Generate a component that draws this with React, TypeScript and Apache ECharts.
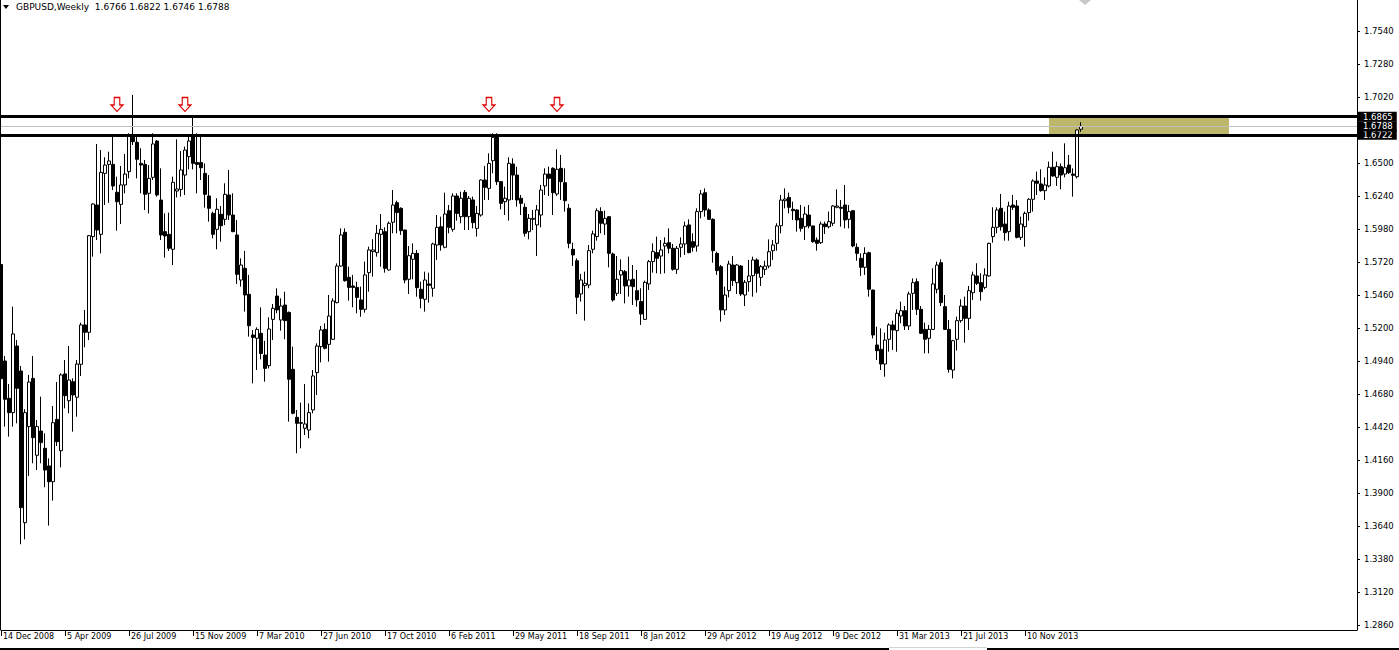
import React, { useEffect, useRef } from "react";
import * as echarts from "echarts";

// ---------- DATA ----------
const symbolName = "GBPUSD";
const timeframe = "Weekly";
const firstWeekUTC = Date.UTC(2008, 11, 14); // 14 Dec 2008
const totalSlots = 340; // bars that fit the visible window (incl. chart shift)
const monthNames = ["Jan", "Feb", "Mar", "Apr", "May", "Jun", "Jul", "Aug", "Sep", "Oct", "Nov", "Dec"];
const dateLabelEvery = 16;

// weekly candles: [open, close, low, high]
const candlesDec08Oct09 = [
  [1.5700, 1.4800, 1.4790, 1.5720], [1.4940, 1.4638, 1.4423, 1.4979], [1.4646, 1.4533, 1.4344, 1.4759],
  [1.4533, 1.5153, 1.4423, 1.5368], [1.5058, 1.4725, 1.4449, 1.5105], [1.4861, 1.3784, 1.3496, 1.4901],
  [1.3666, 1.4533, 1.3535, 1.4560], [1.4423, 1.4774, 1.4034, 1.4830], [1.4803, 1.4336, 1.4134, 1.4979],
  [1.4197, 1.4423, 1.4081, 1.4475], [1.4388, 1.4297, 1.4134, 1.4659], [1.4252, 1.4081, 1.3945, 1.4370],
  [1.4113, 1.3989, 1.3643, 1.4173], [1.3989, 1.4454, 1.3840, 1.4585], [1.4480, 1.4304, 1.4270, 1.4774],
  [1.4233, 1.4830, 1.4102, 1.4843], [1.4838, 1.4667, 1.4567, 1.4948], [1.4627, 1.4790, 1.4528, 1.5058],
  [1.4777, 1.4672, 1.4383, 1.4803], [1.4654, 1.4916, 1.4501, 1.4948], [1.4914, 1.5224, 1.4822, 1.5242],
  [1.5224, 1.5166, 1.5048, 1.5342], [1.5166, 1.5927, 1.5105, 1.5933], [1.5920, 1.6177, 1.5762, 1.6182],
  [1.6169, 1.5972, 1.5893, 1.6650], [1.5938, 1.6426, 1.5788, 1.6602], [1.6418, 1.6484, 1.6169, 1.6545],
  [1.6489, 1.6516, 1.6187, 1.6589], [1.6489, 1.6319, 1.6287, 1.6728], [1.6269, 1.6195, 1.5967, 1.6392],
  [1.6174, 1.6327, 1.6019, 1.6476], [1.6327, 1.6413, 1.6261, 1.6571], [1.6432, 1.6721, 1.6379, 1.6734],
  [1.6702, 1.6668, 1.6642, 1.7036], [1.6663, 1.6529, 1.6379, 1.6707], [1.6497, 1.6484, 1.6261, 1.6616],
  [1.6489, 1.6253, 1.6130, 1.6524], [1.6261, 1.6379, 1.6103, 1.6484], [1.6387, 1.6650, 1.6366, 1.6734],
  [1.6673, 1.6248, 1.6235, 1.6681], [1.6208, 1.5933, 1.5893, 1.6458], [1.5959, 1.5925, 1.5754, 1.6103],
  [1.5938, 1.5828, 1.5807, 1.6109], [1.5820, 1.6348, 1.5696, 1.6392], [1.6279, 1.6295, 1.6229, 1.6686],
];

const candlesOct09Aug10 = [
  [1.6292, 1.6445, 1.6235, 1.6594], [1.6405, 1.6602, 1.6248, 1.6629], [1.6550, 1.6673, 1.6450, 1.6707],
  [1.6721, 1.6497, 1.6450, 1.6870], [1.6503, 1.6489, 1.6261, 1.6734], [1.6503, 1.6463, 1.6366, 1.6707],
  [1.6418, 1.6253, 1.6148, 1.6497], [1.6240, 1.6143, 1.6038, 1.6405], [1.6103, 1.5938, 1.5906, 1.6117],
  [1.5977, 1.6135, 1.5820, 1.6222], [1.6096, 1.6006, 1.5880, 1.6161], [1.6056, 1.6253, 1.6011, 1.6340],
  [1.6248, 1.6090, 1.6051, 1.6445], [1.6090, 1.5959, 1.5955, 1.6261], [1.5933, 1.5623, 1.5547, 1.6051],
  [1.5578, 1.5696, 1.5526, 1.5749], [1.5670, 1.5460, 1.5329, 1.5807], [1.5465, 1.5218, 1.5132, 1.5618],
  [1.5145, 1.5126, 1.4764, 1.5184], [1.5119, 1.5189, 1.4869, 1.5205], [1.5158, 1.4999, 1.4953, 1.5363],
  [1.4987, 1.4882, 1.4777, 1.5098], [1.4903, 1.5192, 1.4882, 1.5284], [1.5268, 1.5355, 1.5105, 1.5389],
  [1.5452, 1.5342, 1.5316, 1.5513], [1.5263, 1.5373, 1.5179, 1.5434], [1.5381, 1.5258, 1.5111, 1.5486],
  [1.5323, 1.4796, 1.4462, 1.5330], [1.4874, 1.4528, 1.4520, 1.5053], [1.4496, 1.4449, 1.4213, 1.4554],
  [1.4454, 1.4449, 1.4252, 1.4612], [1.4410, 1.4444, 1.4357, 1.4759], [1.4396, 1.4533, 1.4331, 1.4606],
  [1.4554, 1.4822, 1.4528, 1.4869], [1.4848, 1.5058, 1.4672, 1.5079], [1.5053, 1.5184, 1.4929, 1.5216],
  [1.5189, 1.5040, 1.5032, 1.5237], [1.5071, 1.5294, 1.4935, 1.5460], [1.5111, 1.5413, 1.5105, 1.5434],
  [1.5400, 1.5688, 1.5394, 1.5709], [1.5688, 1.5933, 1.5683, 1.5985], [1.5954, 1.5573, 1.5565, 1.5985],
  [1.5599, 1.5520, 1.5415, 1.5683], [1.5531, 1.5520, 1.5363, 1.5618], [1.5520, 1.5441, 1.5316, 1.5565],
];

const candlesSep10Jul11 = [
  [1.5421, 1.5347, 1.5289, 1.5526], [1.5347, 1.5618, 1.5321, 1.5723], [1.5636, 1.5815, 1.5486, 1.5841],
  [1.5802, 1.5815, 1.5605, 1.5900], [1.5794, 1.5946, 1.5762, 1.6012], [1.5938, 1.5977, 1.5683, 1.6098],
  [1.5959, 1.5670, 1.5636, 1.5993], [1.5657, 1.6025, 1.5652, 1.6038], [1.6033, 1.6169, 1.5946, 1.6287],
  [1.6187, 1.6109, 1.5946, 1.6203], [1.6143, 1.5967, 1.5933, 1.6151], [1.5972, 1.5578, 1.5552, 1.5975],
  [1.5584, 1.5770, 1.5468, 1.5846], [1.5741, 1.5788, 1.5584, 1.5867], [1.5788, 1.5518, 1.5447, 1.5815],
  [1.5505, 1.5434, 1.5355, 1.5565], [1.5426, 1.5578, 1.5329, 1.5644], [1.5547, 1.5536, 1.5400, 1.5636],
  [1.5513, 1.5862, 1.5447, 1.5872], [1.5854, 1.5993, 1.5736, 1.6090], [1.5998, 1.5854, 1.5809, 1.6077],
  [1.5836, 1.6098, 1.5828, 1.6266], [1.6124, 1.5993, 1.5946, 1.6169], [1.5977, 1.6240, 1.5959, 1.6261],
  [1.6240, 1.6103, 1.6046, 1.6261], [1.6077, 1.6222, 1.6025, 1.6274], [1.6269, 1.6077, 1.5972, 1.6287],
  [1.6077, 1.6222, 1.5972, 1.6240], [1.6209, 1.6030, 1.5985, 1.6235], [1.5985, 1.6103, 1.5920, 1.6161],
  [1.6090, 1.6366, 1.6077, 1.6371], [1.6366, 1.6308, 1.6209, 1.6476], [1.6300, 1.6497, 1.6209, 1.6576],
  [1.6518, 1.6702, 1.6419, 1.6734], [1.6708, 1.6353, 1.6327, 1.6734], [1.6353, 1.6182, 1.6135, 1.6356],
  [1.6195, 1.6222, 1.6090, 1.6314], [1.6209, 1.6497, 1.6046, 1.6545], [1.6492, 1.6405, 1.6209, 1.6537],
  [1.6405, 1.6209, 1.6156, 1.6471], [1.6222, 1.6182, 1.6090, 1.6248], [1.6151, 1.5946, 1.5920, 1.6182],
  [1.5959, 1.6064, 1.5899, 1.6098], [1.6056, 1.6064, 1.5972, 1.6130], [1.6012, 1.6130, 1.5767, 1.6169],
];

const candlesMay11Apr12 = [
  [1.6090, 1.6287, 1.5993, 1.6327], [1.6319, 1.6413, 1.6248, 1.6458], [1.6413, 1.6379, 1.6240, 1.6471],
  [1.6458, 1.6266, 1.6090, 1.6466], [1.6256, 1.6450, 1.6240, 1.6608], [1.6458, 1.6353, 1.6209, 1.6563],
  [1.6345, 1.6203, 1.6117, 1.6458], [1.6143, 1.5867, 1.5828, 1.6177], [1.5820, 1.5775, 1.5689, 1.5872],
  [1.5730, 1.5442, 1.5310, 1.5749], [1.5468, 1.5578, 1.5408, 1.5626], [1.5534, 1.5552, 1.5258, 1.5644],
  [1.5539, 1.5809, 1.5513, 1.5854], [1.5820, 1.5941, 1.5788, 1.5967], [1.5920, 1.6124, 1.5888, 1.6143],
  [1.6117, 1.6025, 1.5946, 1.6151], [1.6019, 1.6064, 1.5933, 1.6124], [1.6077, 1.5788, 1.5678, 1.6082],
  [1.5783, 1.5421, 1.5408, 1.5794], [1.5473, 1.5584, 1.5452, 1.5767], [1.5618, 1.5652, 1.5468, 1.5741],
  [1.5644, 1.5531, 1.5394, 1.5657], [1.5531, 1.5578, 1.5447, 1.5762], [1.5584, 1.5526, 1.5381, 1.5696],
  [1.5494, 1.5421, 1.5368, 1.5657], [1.5408, 1.5310, 1.5224, 1.5513], [1.5268, 1.5560, 1.5263, 1.5573],
  [1.5547, 1.5723, 1.5500, 1.5736], [1.5723, 1.5802, 1.5636, 1.5867], [1.5794, 1.5749, 1.5631, 1.5920],
  [1.5767, 1.5815, 1.5626, 1.5893], [1.5846, 1.5867, 1.5631, 1.5914], [1.5872, 1.5828, 1.5788, 1.5985],
  [1.5828, 1.5662, 1.5652, 1.5862], [1.5662, 1.5828, 1.5626, 1.5846], [1.5836, 1.5862, 1.5757, 1.5914],
  [1.5862, 1.6004, 1.5775, 1.6038], [1.6012, 1.5794, 1.5788, 1.6056], [1.5880, 1.5836, 1.5802, 1.5946],
  [1.5846, 1.6117, 1.5802, 1.6143], [1.6117, 1.6256, 1.6064, 1.6287], [1.6266, 1.6130, 1.6077, 1.6300],
  [1.6130, 1.6056, 1.6051, 1.6143], [1.6056, 1.5809, 1.5715, 1.6064], [1.5788, 1.5652, 1.5618, 1.5802],
];

const candlesMay12Mar13 = [
  [1.5683, 1.5342, 1.5250, 1.5696], [1.5342, 1.5460, 1.5302, 1.5526], [1.5494, 1.5704, 1.5441, 1.5730],
  [1.5696, 1.5573, 1.5531, 1.5767], [1.5557, 1.5696, 1.5468, 1.5704], [1.5688, 1.5468, 1.5452, 1.5696],
  [1.5460, 1.5560, 1.5373, 1.5578], [1.5565, 1.5610, 1.5486, 1.5736], [1.5612, 1.5736, 1.5447, 1.5762],
  [1.5736, 1.5631, 1.5478, 1.5749], [1.5599, 1.5683, 1.5531, 1.5696], [1.5662, 1.5688, 1.5618, 1.5730],
  [1.5688, 1.5801, 1.5670, 1.5898], [1.5809, 1.5854, 1.5736, 1.5893], [1.5867, 1.6004, 1.5809, 1.6025],
  [1.6006, 1.6208, 1.5946, 1.6248], [1.6203, 1.6216, 1.6143, 1.6300], [1.6229, 1.6151, 1.6103, 1.6266],
  [1.6135, 1.6124, 1.6051, 1.6195], [1.6130, 1.6051, 1.5959, 1.6135], [1.6064, 1.5985, 1.5959, 1.6169],
  [1.5998, 1.6098, 1.5893, 1.6156], [1.6090, 1.6004, 1.5985, 1.6169], [1.6004, 1.5880, 1.5872, 1.6006],
  [1.5893, 1.5867, 1.5809, 1.5914], [1.5872, 1.6019, 1.5862, 1.6038], [1.6019, 1.5998, 1.5941, 1.6038],
  [1.5998, 1.6038, 1.5985, 1.6117], [1.6025, 1.6161, 1.6004, 1.6169], [1.6151, 1.6161, 1.6143, 1.6292],
  [1.6151, 1.6143, 1.5998, 1.6208], [1.6169, 1.6051, 1.5985, 1.6327], [1.6056, 1.6117, 1.5985, 1.6169],
  [1.6124, 1.5846, 1.5836, 1.6130], [1.5836, 1.5788, 1.5730, 1.5867], [1.5749, 1.5678, 1.5610, 1.5788],
  [1.5678, 1.5788, 1.5618, 1.5836], [1.5793, 1.5505, 1.5447, 1.5801], [1.5499, 1.5145, 1.5118, 1.5502],
  [1.5066, 1.5021, 1.4948, 1.5210], [1.5032, 1.4916, 1.4869, 1.5197], [1.4916, 1.5105, 1.4816, 1.5163],
  [1.5111, 1.5224, 1.5013, 1.5237], [1.5224, 1.5184, 1.5027, 1.5258], [1.5179, 1.5316, 1.5013, 1.5347],
];

const candlesApr13Feb14 = [
  [1.5294, 1.5336, 1.5237, 1.5407], [1.5336, 1.5216, 1.5184, 1.5373], [1.5216, 1.5468, 1.5184, 1.5486],
  [1.5473, 1.5557, 1.5342, 1.5591], [1.5565, 1.5347, 1.5302, 1.5591], [1.5347, 1.5158, 1.5153, 1.5373],
  [1.5189, 1.5111, 1.5000, 1.5242], [1.5119, 1.5189, 1.5000, 1.5224], [1.5189, 1.5547, 1.5184, 1.5670],
  [1.5505, 1.5696, 1.5473, 1.5723], [1.5715, 1.5400, 1.5373, 1.5741], [1.5368, 1.5189, 1.5184, 1.5460],
  [1.5189, 1.4874, 1.4848, 1.5263], [1.4869, 1.5100, 1.4803, 1.5106], [1.5111, 1.5258, 1.5022, 1.5289],
  [1.5258, 1.5373, 1.5242, 1.5426], [1.5373, 1.5276, 1.5084, 1.5447], [1.5276, 1.5494, 1.5184, 1.5531],
  [1.5478, 1.5618, 1.5421, 1.5644], [1.5610, 1.5552, 1.5539, 1.5710], [1.5557, 1.5486, 1.5415, 1.5631],
  [1.5520, 1.5618, 1.5505, 1.5670], [1.5610, 1.5867, 1.5605, 1.5872], [1.5920, 1.5993, 1.5872, 1.6151],
  [1.5993, 1.6130, 1.5946, 1.6151], [1.6143, 1.5998, 1.5967, 1.6256], [1.6019, 1.5951, 1.5888, 1.6117],
  [1.5959, 1.6161, 1.5888, 1.6195], [1.6169, 1.6151, 1.6130, 1.6248], [1.6161, 1.5914, 1.5906, 1.6208],
  [1.5914, 1.6019, 1.5893, 1.6077], [1.5998, 1.6103, 1.5841, 1.6117], [1.6109, 1.6214, 1.6046, 1.6222],
  [1.6214, 1.6358, 1.6117, 1.6371], [1.6358, 1.6340, 1.6248, 1.6432], [1.6335, 1.6282, 1.6274, 1.6450],
  [1.6282, 1.6327, 1.6208, 1.6387], [1.6319, 1.6466, 1.6308, 1.6511], [1.6466, 1.6398, 1.6392, 1.6589],
  [1.6387, 1.6471, 1.6319, 1.6511], [1.6471, 1.6405, 1.6293, 1.6497], [1.6413, 1.6463, 1.6387, 1.6655],
  [1.6484, 1.6424, 1.6413, 1.6563], [1.6413, 1.6403, 1.6235, 1.6458], [1.6392, 1.6760, 1.6379, 1.6765],
  [1.6766, 1.6788, 1.6746, 1.6822],
];

const resistanceTop = 1.6865;
const resistanceBottom = 1.6722;
const lastPrice = 1.6788;
const priceTicks = [
  1.2860, 1.3120, 1.3380, 1.3640, 1.3900, 1.4160, 1.4420, 1.4680, 1.4940,
  1.5200, 1.5460, 1.5720, 1.5980, 1.6240, 1.6500, 1.7020, 1.7280, 1.7540,
];
const priceMin = 1.28205;
const priceMax = 1.77842;
const arrowBars = [29, 46, 122, 139];
const arrowPrice = 1.6961;
const zoneBars = [262, 307];

// ---------- CHART ----------
const candles = [
  ...candlesDec08Oct09,
  ...candlesOct09Aug10,
  ...candlesSep10Jul11,
  ...candlesMay11Apr12,
  ...candlesMay12Mar13,
  ...candlesApr13Feb14,
];

const weekLabels: string[] = [];
for (let i = 0; i < totalSlots; i++) {
  const d = new Date(firstWeekUTC + i * 7 * 86400000);
  weekLabels.push(`${d.getUTCDate()} ${monthNames[d.getUTCMonth()]} ${d.getUTCFullYear()}`);
}

const FONT = "DejaVu Sans";

export default function App() {
  const ref = useRef<HTMLDivElement>(null);

  useEffect(() => {
    if (!ref.current) return;
    const chart = echarts.init(ref.current, undefined, { renderer: "svg" });
    const lastIdx = candles.length - 1;
    const last = candles[lastIdx];
    const header = `${symbolName},${timeframe}  ${last[0].toFixed(4)} ${last[3].toFixed(4)} ${last[2].toFixed(4)} ${last[1].toFixed(4)}`;
    const showDate = (idx: number) => idx % dateLabelEvery === 0 && idx <= lastIdx;

    const lineLabel = {
      show: true,
      position: "end",
      distance: 1,
      formatter: (p: any) => Number(p.value).toFixed(4),
      color: "#ffffff",
      backgroundColor: "#000000",
      padding: [1, 4, 0, 5],
      fontSize: 8.5,
      lineHeight: 9,
      fontFamily: FONT,
    };

    chart.setOption({
      animation: false,
      backgroundColor: "#ffffff",
      grid: { left: 1, right: 42, top: 0, bottom: 20 },
      xAxis: {
        type: "category",
        data: weekLabels,
        boundaryGap: false,
        axisLine: { show: true, onZero: false, lineStyle: { color: "#000", width: 1 } },
        axisTick: { show: true, length: 6, interval: showDate, lineStyle: { color: "#000" } },
        axisLabel: {
          interval: showDate,
          align: "left",
          margin: 2,
          padding: [0, 0, 0, 2],
          color: "#000",
          fontSize: 8,
          fontFamily: FONT,
        },
        splitLine: { show: false },
      },
      yAxis: {
        type: "value",
        position: "right",
        min: priceMin,
        max: priceMax,
        scale: true,
        splitLine: { show: false },
        axisLine: { show: true, lineStyle: { color: "#000", width: 1 } },
        axisTick: { show: true, length: 3, customValues: priceTicks, lineStyle: { color: "#000" } },
        axisLabel: {
          customValues: priceTicks,
          formatter: (v: number) => v.toFixed(4),
          margin: 7,
          color: "#000",
          fontSize: 8.5,
          fontFamily: FONT,
        },
      },
      series: [
        {
          type: "line",
          data: [],
          z: 1,
          silent: true,
          markArea: {
            silent: true,
            itemStyle: { color: "#bdb76b" },
            data: [[{ coord: [zoneBars[0], resistanceTop] }, { coord: [zoneBars[1], resistanceBottom] }]],
          },
        },
        {
          type: "candlestick",
          data: candles,
          z: 3,
          barWidth: 3,
          silent: true,
          itemStyle: {
            color: "#ffffff",
            color0: "#000000",
            borderColor: "#000000",
            borderColor0: "#000000",
            borderWidth: 1,
          },
          markPoint: {
            silent: true,
            symbol: "path://M3.5,0 L9.5,0 L9.5,7.5 L13,7.5 L6.5,14 L0,7.5 L3.5,7.5 Z",
            symbolSize: [12, 14],
            itemStyle: { color: "#ffffff", borderColor: "#e00000", borderWidth: 1.2 },
            label: { show: false },
            data: arrowBars.map((b) => ({ coord: [b, arrowPrice] })),
          },
          markLine: {
            silent: true,
            precision: 4,
            symbol: ["none", "none"],
            data: [
              { yAxis: resistanceBottom, lineStyle: { color: "#000", width: 3, type: "solid" }, label: lineLabel },
              { yAxis: resistanceTop, lineStyle: { color: "#000", width: 3, type: "solid" }, label: lineLabel },
              { yAxis: lastPrice, lineStyle: { color: "#c0c0c0", width: 1, type: "solid" }, label: lineLabel },
            ],
          },
        },
      ],
      graphic: [
        { type: "polygon", shape: { points: [[3, 5], [9, 5], [6, 9]] }, style: { fill: "#000" } },
        {
          type: "text",
          x: 16,
          y: 7,
          style: { text: header, font: `9px "${FONT}"`, fill: "#000", verticalAlign: "middle" },
        },
        { type: "line", shape: { x1: 0.5, y1: 0, x2: 0.5, y2: 630 }, style: { stroke: "#000", lineWidth: 1 } },
        { type: "line", shape: { x1: 0, y1: 649, x2: 889, y2: 649 }, style: { stroke: "#000", lineWidth: 2 } },
        { type: "line", shape: { x1: 889, y1: 647.5, x2: 987, y2: 647.5 }, style: { stroke: "#d4d4d4", lineWidth: 1 } },
        { type: "line", shape: { x1: 987, y1: 649, x2: 1399, y2: 649 }, style: { stroke: "#000", lineWidth: 2 } },
        { type: "polygon", shape: { points: [[1079, 0], [1091, 0], [1085, 5]] }, style: { fill: "#c8c8c8" } },
      ],
    });

    return () => chart.dispose();
  }, []);

  return (
    <div
      ref={ref}
      style={{ position: "fixed", left: 0, top: 0, width: 1399, height: 650, background: "#fff" }}
    />
  );
}
